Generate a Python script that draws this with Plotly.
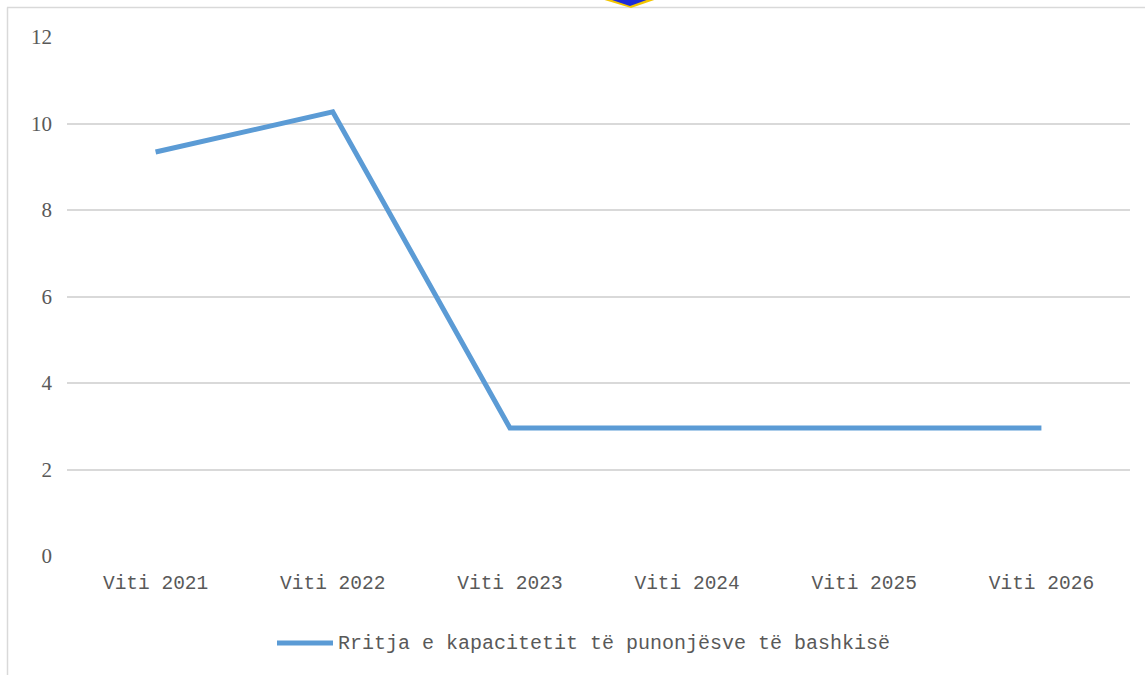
import plotly.graph_objects as go

# Chart data
years = ["Viti 2021", "Viti 2022", "Viti 2023", "Viti 2024", "Viti 2025", "Viti 2026"]
capacity_growth = [9.34, 10.27, 2.96, 2.96, 2.96, 2.96]
series_name = "Rritja e kapacitetit të punonjësve të bashkisë"
y_ticks = [0, 2, 4, 6, 8, 10, 12]

W, H = 1145, 675
L, R, T, B = 67, 15, 37, 119
PW, PH = W - L - R, H - T - B

def px(x):
    return (x - L) / PW

def py(y):
    return (H - B - y) / PH

FONT = "Liberation Mono"
TEXT = "#595959"
LINE = "#5b9bd5"
GRID = "#d9d9d9"

fig = go.Figure()
fig.add_trace(go.Scatter(
    x=years, y=capacity_growth, mode="lines", name=series_name,
    line=dict(color=LINE, width=5), showlegend=False,
))

shapes = [
    # outer frame (top and left edges)
    dict(type="line", xref="paper", yref="paper", x0=px(7), x1=px(W), y0=py(7.5), y1=py(7.5),
         line=dict(color="#d9d9d9", width=1.5)),
    dict(type="line", xref="paper", yref="paper", x0=px(7.5), x1=px(7.5), y0=py(7.5), y1=py(H + 5),
         line=dict(color="#d9d9d9", width=1.5)),
    # emblem tip at top edge
    dict(type="path", xref="paper", yref="paper",
         path=f"M {px(598)},{py(-2)} L {px(660)},{py(-2)} L {px(631)},{py(8)} Z",
         fillcolor="#f2c500", line=dict(width=0)),
    dict(type="path", xref="paper", yref="paper",
         path=f"M {px(606)},{py(-2)} L {px(652)},{py(-2)} L {px(630)},{py(6)} Z",
         fillcolor="#1c2bd8", line=dict(width=0)),
    # legend swatch
    dict(type="line", xref="paper", yref="paper", x0=px(277), x1=px(333), y0=py(643), y1=py(643),
         line=dict(color=LINE, width=5)),
]

annotations = [
    dict(text=series_name, xref="paper", yref="paper", x=px(336), y=py(643),
         xanchor="left", yanchor="middle", showarrow=False,
         font=dict(family=FONT, size=20, color=TEXT)),
]

fig.update_layout(
    width=W, height=H,
    margin=dict(l=L, r=R, t=T, b=B),
    paper_bgcolor="white", plot_bgcolor="white",
    font=dict(family=FONT, size=19, color=TEXT),
    shapes=shapes, annotations=annotations,
    showlegend=False,
    xaxis=dict(type="category", range=[-0.5, 5.5], showgrid=False, zeroline=False,
               showline=False, ticks="", ticklabelstandoff=12,
               tickfont=dict(family=FONT, size=19.5, color=TEXT)),
    yaxis=dict(range=[0, 12], tickvals=y_ticks, showgrid=True, gridcolor=GRID, gridwidth=1.5,
               zeroline=False, showline=False, ticks="", ticklabelstandoff=14,
               tickfont=dict(family="Liberation Serif", size=21, color=TEXT)),
)

fig.write_html("out.html")
